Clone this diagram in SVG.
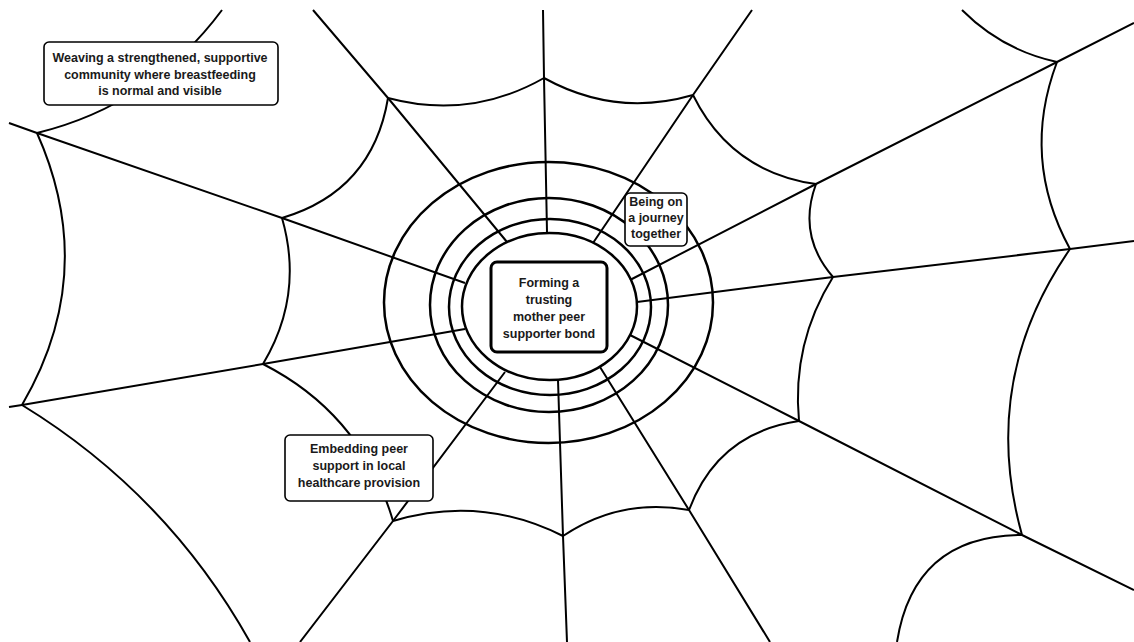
<svg xmlns="http://www.w3.org/2000/svg" width="1134" height="642" viewBox="0 0 1134 642">
  <style>
    .ring { fill: none; stroke: #000; stroke-width: 2.5; }
    .thread { fill: none; stroke: #000; stroke-width: 2; stroke-linejoin: round; }
    .box { fill: #fff; stroke: #000; stroke-width: 1.6; }
    .hub { fill: #fff; stroke: #000; stroke-width: 3; }
    .lbl { font-family: "Liberation Sans", Arial, sans-serif; font-weight: bold; font-size: 12.5px; fill: #1a1a1a; text-anchor: middle; }
  </style>
  <rect x="0" y="0" width="1134" height="642" fill="#fff"/>

  <!-- concentric hub rings -->
  <g id="rings">
    <ellipse class="ring" cx="548.5" cy="302.5" rx="164.5" ry="140.5"/>
    <ellipse class="ring" cx="549" cy="305" rx="119" ry="107"/>
    <ellipse class="ring" cx="550" cy="307" rx="101" ry="88"/>
    <ellipse class="ring" cx="549.5" cy="306.5" rx="87.5" ry="73.5"/>
  </g>

  <g id="connectors">
    <!-- radial spokes -->
    <polyline class="thread" points="547,232 544,78 543,10"/>
    <polyline class="thread" points="507,242 388,98 313,10"/>
    <polyline class="thread" points="465,283 282,218 37,133 9,123"/>
    <polyline class="thread" points="465,329 263,364 22,405 9,407"/>
    <polyline class="thread" points="505,372 393,521 300,642"/>
    <polyline class="thread" points="558,380 563,536 567,642"/>
    <polyline class="thread" points="600,367 689,510 770,642"/>
    <polyline class="thread" points="630,335 799,421 1022,535 1134,590"/>
    <polyline class="thread" points="637,302 833,277 1070,249 1134,241"/>
    <polyline class="thread" points="630,280 816,184 1057,62 1134,23"/>
    <polyline class="thread" points="593,243 693,95 752,10"/>

    <!-- inner ring of sagging threads -->
    <path class="thread" d="M388,98 Q470,120 544,78"/>
    <path class="thread" d="M544,78 Q615.5,117.5 693,95"/>
    <path class="thread" d="M693,95 Q731,172 816,184"/>
    <path class="thread" d="M816,184 Q797,235.5 833,277"/>
    <path class="thread" d="M833,277 Q791.7,343.3 799,421"/>
    <path class="thread" d="M799,421 Q717.6,432.9 689,510"/>
    <path class="thread" d="M689,510 Q620.7,497.5 563,536"/>
    <path class="thread" d="M563,536 Q481,494.6 393,521"/>
    <path class="thread" d="M393,521 Q361.9,414.4 263,364"/>
    <path class="thread" d="M263,364 Q304.2,295.1 282,218"/>
    <path class="thread" d="M282,218 Q372.5,191.1 388,98"/>

    <!-- outer ring of sagging threads -->
    <path class="thread" d="M37,133 Q99.4,272.9 22,405"/>
    <path class="thread" d="M22,405 Q167,493.7 250,642"/>
    <path class="thread" d="M37,133 Q151.7,104.8 222,10"/>
    <path class="thread" d="M1057,62 Q1001.8,50 962,10"/>
    <path class="thread" d="M1057,62 Q1020.6,158.5 1070,249"/>
    <path class="thread" d="M1070,249 Q979,380.7 1022,535"/>
    <path class="thread" d="M1022,535 Q914,535.3 897,642"/>
  </g>

  <g id="hub-bond">
    <rect class="hub" x="491" y="262" width="116" height="90" rx="6"/>
    <text class="lbl" x="549" y="287">Forming a</text>
    <text class="lbl" x="549" y="304">trusting</text>
    <text class="lbl" x="549" y="321">mother peer</text>
    <text class="lbl" x="549" y="338">supporter bond</text>
  </g>

  <g id="journey">
    <rect class="box" x="625" y="193" width="62" height="53" rx="5"/>
    <text class="lbl" x="656" y="206">Being on</text>
    <text class="lbl" x="656" y="222">a journey</text>
    <text class="lbl" x="656" y="238">together</text>
  </g>

  <g id="embedding">
    <rect class="box" x="285" y="435" width="148" height="66" rx="5"/>
    <text class="lbl" x="359" y="453">Embedding peer</text>
    <text class="lbl" x="359" y="470">support in local</text>
    <text class="lbl" x="359" y="487">healthcare provision</text>
  </g>

  <g id="community">
    <rect class="box" x="44" y="42" width="234" height="63" rx="5"/>
    <text class="lbl" x="160" y="62">Weaving a strengthened, supportive</text>
    <text class="lbl" x="160" y="78.5">community where breastfeeding</text>
    <text class="lbl" x="160" y="95">is normal and visible</text>
  </g>
</svg>
